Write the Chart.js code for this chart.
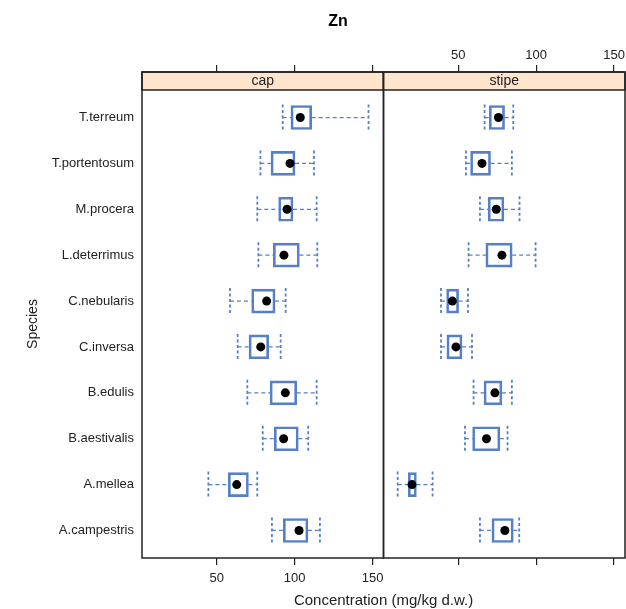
<!DOCTYPE html>
<html>
<head>
<meta charset="utf-8">
<style>
html,body{margin:0;padding:0;background:#fff;}
canvas{display:block;}
</style>
<script src="https://cdn.jsdelivr.net/npm/chart.js@4.4.1/dist/chart.umd.min.js"></script>
</head>
<body>
<canvas id="c" width="626" height="609"></canvas>
<script>
// ---- data ----
const chartTitle = 'Zn';
const xTitle = 'Concentration (mg/kg d.w.)';
const yTitle = 'Species';
const panelNames = ['cap', 'stipe'];
// species listed top to bottom as in the figure
const species = ['T.terreum', 'T.portentosum', 'M.procera', 'L.deterrimus', 'C.nebularis',
                 'C.inversa', 'B.edulis', 'B.aestivalis', 'A.mellea', 'A.campestris'];
const xTickValues = [50, 100, 150];

const capLow    = [92.3, 78.0, 76.0, 76.7, 58.5, 63.4, 69.6, 79.5, 44.6, 85.4];
const capQ1     = [97.6, 84.8, 89.7, 86.3, 72.4, 70.7, 84.2, 86.9, 57.4, 92.7];
const capMedian = [103.6, 97.0, 95.1, 93.1, 82.0, 78.2, 94.0, 92.9, 62.8, 102.8];
const capQ3     = [110.9, 100.2, 98.9, 103.0, 87.4, 83.3, 101.3, 102.3, 70.3, 108.5];
const capHigh   = [147.4, 112.4, 114.1, 114.5, 94.2, 91.0, 114.1, 108.7, 76.0, 116.2];

const stipeLow    = [66.9, 54.9, 63.9, 56.6, 38.9, 38.9, 59.8, 54.3, 11.1, 63.9];
const stipeQ1     = [69.9, 57.9, 69.2, 67.7, 42.5, 42.7, 66.5, 59.2, 17.9, 71.6];
const stipeMedian = [75.8, 65.2, 74.4, 78.0, 46.2, 48.5, 73.5, 68.1, 20.3, 79.9];
const stipeQ3     = [79.7, 70.7, 79.3, 84.6, 50.2, 52.4, 78.0, 76.7, 23.1, 85.3];
const stipeHigh   = [85.3, 84.4, 89.3, 99.6, 56.2, 58.8, 84.4, 81.6, 33.5, 89.1];

// ---- styling ----
const FONT = '"Liberation Sans", Arial, Helvetica, sans-serif';
const BLUE = '#5580c8';
const INK = '#222222';
const STRIP = '#ffe5cc';
const n = species.length;
const yOf = i => n - i;

const panels = [
  {name: panelNames[0], axis: 'xc', low: capLow, q1: capQ1, med: capMedian, q3: capQ3, high: capHigh},
  {name: panelNames[1], axis: 'xs', low: stipeLow, q1: stipeQ1, med: stipeMedian, q3: stipeQ3, high: stipeHigh}
];

const datasets = [];
panels.forEach(p => {
  datasets.push({
    type: 'scatter', xAxisID: p.axis, yAxisID: 'y', order: 0,
    data: species.map((s, i) => ({x: p.med[i], y: yOf(i)})),
    pointRadius: 4.5, pointBackgroundColor: '#000', pointBorderWidth: 0, showLine: false
  });
});
panels.forEach(p => {
  datasets.push({
    type: 'bar', indexAxis: 'y', xAxisID: p.axis, yAxisID: 'y', order: 1,
    data: species.map((s, i) => ({x: [p.q1[i], p.q3[i]], y: yOf(i)})),
    barThickness: 24, grouped: false, borderSkipped: false,
    borderWidth: 2, borderColor: BLUE, backgroundColor: 'rgba(255,255,255,0)'
  });
});

function xScale(pos, stack, showLabels) {
  return {
    type: 'linear', position: pos, stack: stack, stackWeight: 1, min: 2, max: 157,
    offset: false, beginAtZero: false,
    afterBuildTicks: s => { s.ticks = xTickValues.map(v => ({value: v})); },
    ticks: {callback: v => showLabels ? String(v) : '', font: {family: FONT, size: 13},
            color: INK, padding: pos === 'top' ? 2 : 6, maxRotation: 0, autoSkip: false},
    grid: {display: true, drawOnChartArea: false, drawTicks: true, offset: false,
           tickLength: pos === 'top' ? 25 : 7, color: INK, tickColor: INK, lineWidth: 1.2},
    border: {display: false},
    afterFit: s => { s.height = pos === 'top' ? 90 : 51; s.paddingLeft = 0; s.paddingRight = 0; }
  };
}

const panelPlugin = {
  id: 'latticePanels',
  beforeDatasetsDraw(chart) {
    const ctx = chart.ctx, ys = chart.scales.y;
    ctx.save();
    ctx.strokeStyle = BLUE;
    panels.forEach(p => {
      const xs = chart.scales[p.axis];
      species.forEach((s, i) => {
        const y = ys.getPixelForValue(yOf(i));
        const xl = xs.getPixelForValue(p.low[i]), x1 = xs.getPixelForValue(p.q1[i]);
        const x3 = xs.getPixelForValue(p.q3[i]), xh = xs.getPixelForValue(p.high[i]);
        ctx.lineWidth = 1.3;
        ctx.setLineDash([4, 3]);
        ctx.beginPath();
        ctx.moveTo(xl, y); ctx.lineTo(x1, y);
        ctx.moveTo(x3, y); ctx.lineTo(xh, y);
        ctx.stroke();
        ctx.setLineDash([3, 2.5]);
        ctx.lineWidth = 1.8;
        ctx.beginPath();
        ctx.moveTo(xl, y - 13); ctx.lineTo(xl, y + 13);
        ctx.moveTo(xh, y - 13); ctx.lineTo(xh, y + 13);
        ctx.stroke();
      });
    });
    ctx.restore();
  },
  afterDraw(chart) {
    const ctx = chart.ctx, area = chart.chartArea;
    const stripH = 18;
    ctx.save();
    panels.forEach(p => {
      const xs = chart.scales[p.axis];
      const l = xs.left, r = xs.right;
      ctx.fillStyle = STRIP;
      ctx.fillRect(l, area.top - stripH, r - l, stripH);
      ctx.strokeStyle = INK;
      ctx.lineWidth = 1.5;
      ctx.strokeRect(l, area.top - stripH, r - l, stripH);
      ctx.strokeRect(l, area.top - stripH, r - l, area.bottom - area.top + stripH);
      ctx.fillStyle = INK;
      ctx.font = '14px ' + FONT;
      ctx.textAlign = 'center';
      ctx.textBaseline = 'middle';
      ctx.fillText(p.name, (l + r) / 2, area.top - stripH / 2 + 0.5);
    });
    ctx.fillStyle = INK;
    ctx.font = '15px ' + FONT;
    ctx.textAlign = 'center';
    ctx.textBaseline = 'middle';
    ctx.fillText(xTitle, (area.left + area.right) / 2, 601);
    ctx.fillStyle = '#000';
    ctx.font = 'bold 16px ' + FONT;
    ctx.fillText(chartTitle, 338, 22);
    ctx.restore();
  }
};

new Chart(document.getElementById('c'), {
  type: 'scatter',
  data: {datasets},
  plugins: [panelPlugin],
  options: {
    responsive: false, animation: false, events: [],
    layout: {padding: {left: 0, right: 1, top: 0, bottom: 0}, autoPadding: false},
    plugins: {legend: {display: false}, tooltip: {enabled: false}, title: {display: false}},
    scales: {
      y: {
        type: 'linear', position: 'left', min: 0.4, max: 10.6, offset: false,
        afterBuildTicks: s => { s.ticks = species.map((sp, i) => ({value: yOf(i)})); },
        ticks: {callback: v => species[n - v], font: {family: FONT, size: 13}, color: INK,
                padding: 8, autoSkip: false},
        grid: {display: false, drawTicks: false, offset: false},
        border: {display: false},
        title: {display: true, text: yTitle, font: {family: FONT, size: 14}, color: INK,
                padding: {top: 25, bottom: 0}},
        afterFit: s => { s.width = 142; s.paddingTop = 0; s.paddingBottom = 0; }
      },
      xc: xScale('bottom', 'b', true),
      xs: xScale('bottom', 'b', false),
      // top boxes are laid out in reverse order, so the stipe axis is listed first
      xst: xScale('top', 't', true),
      xct: xScale('top', 't', false)
    }
  }
});
</script>
</body>
</html>
